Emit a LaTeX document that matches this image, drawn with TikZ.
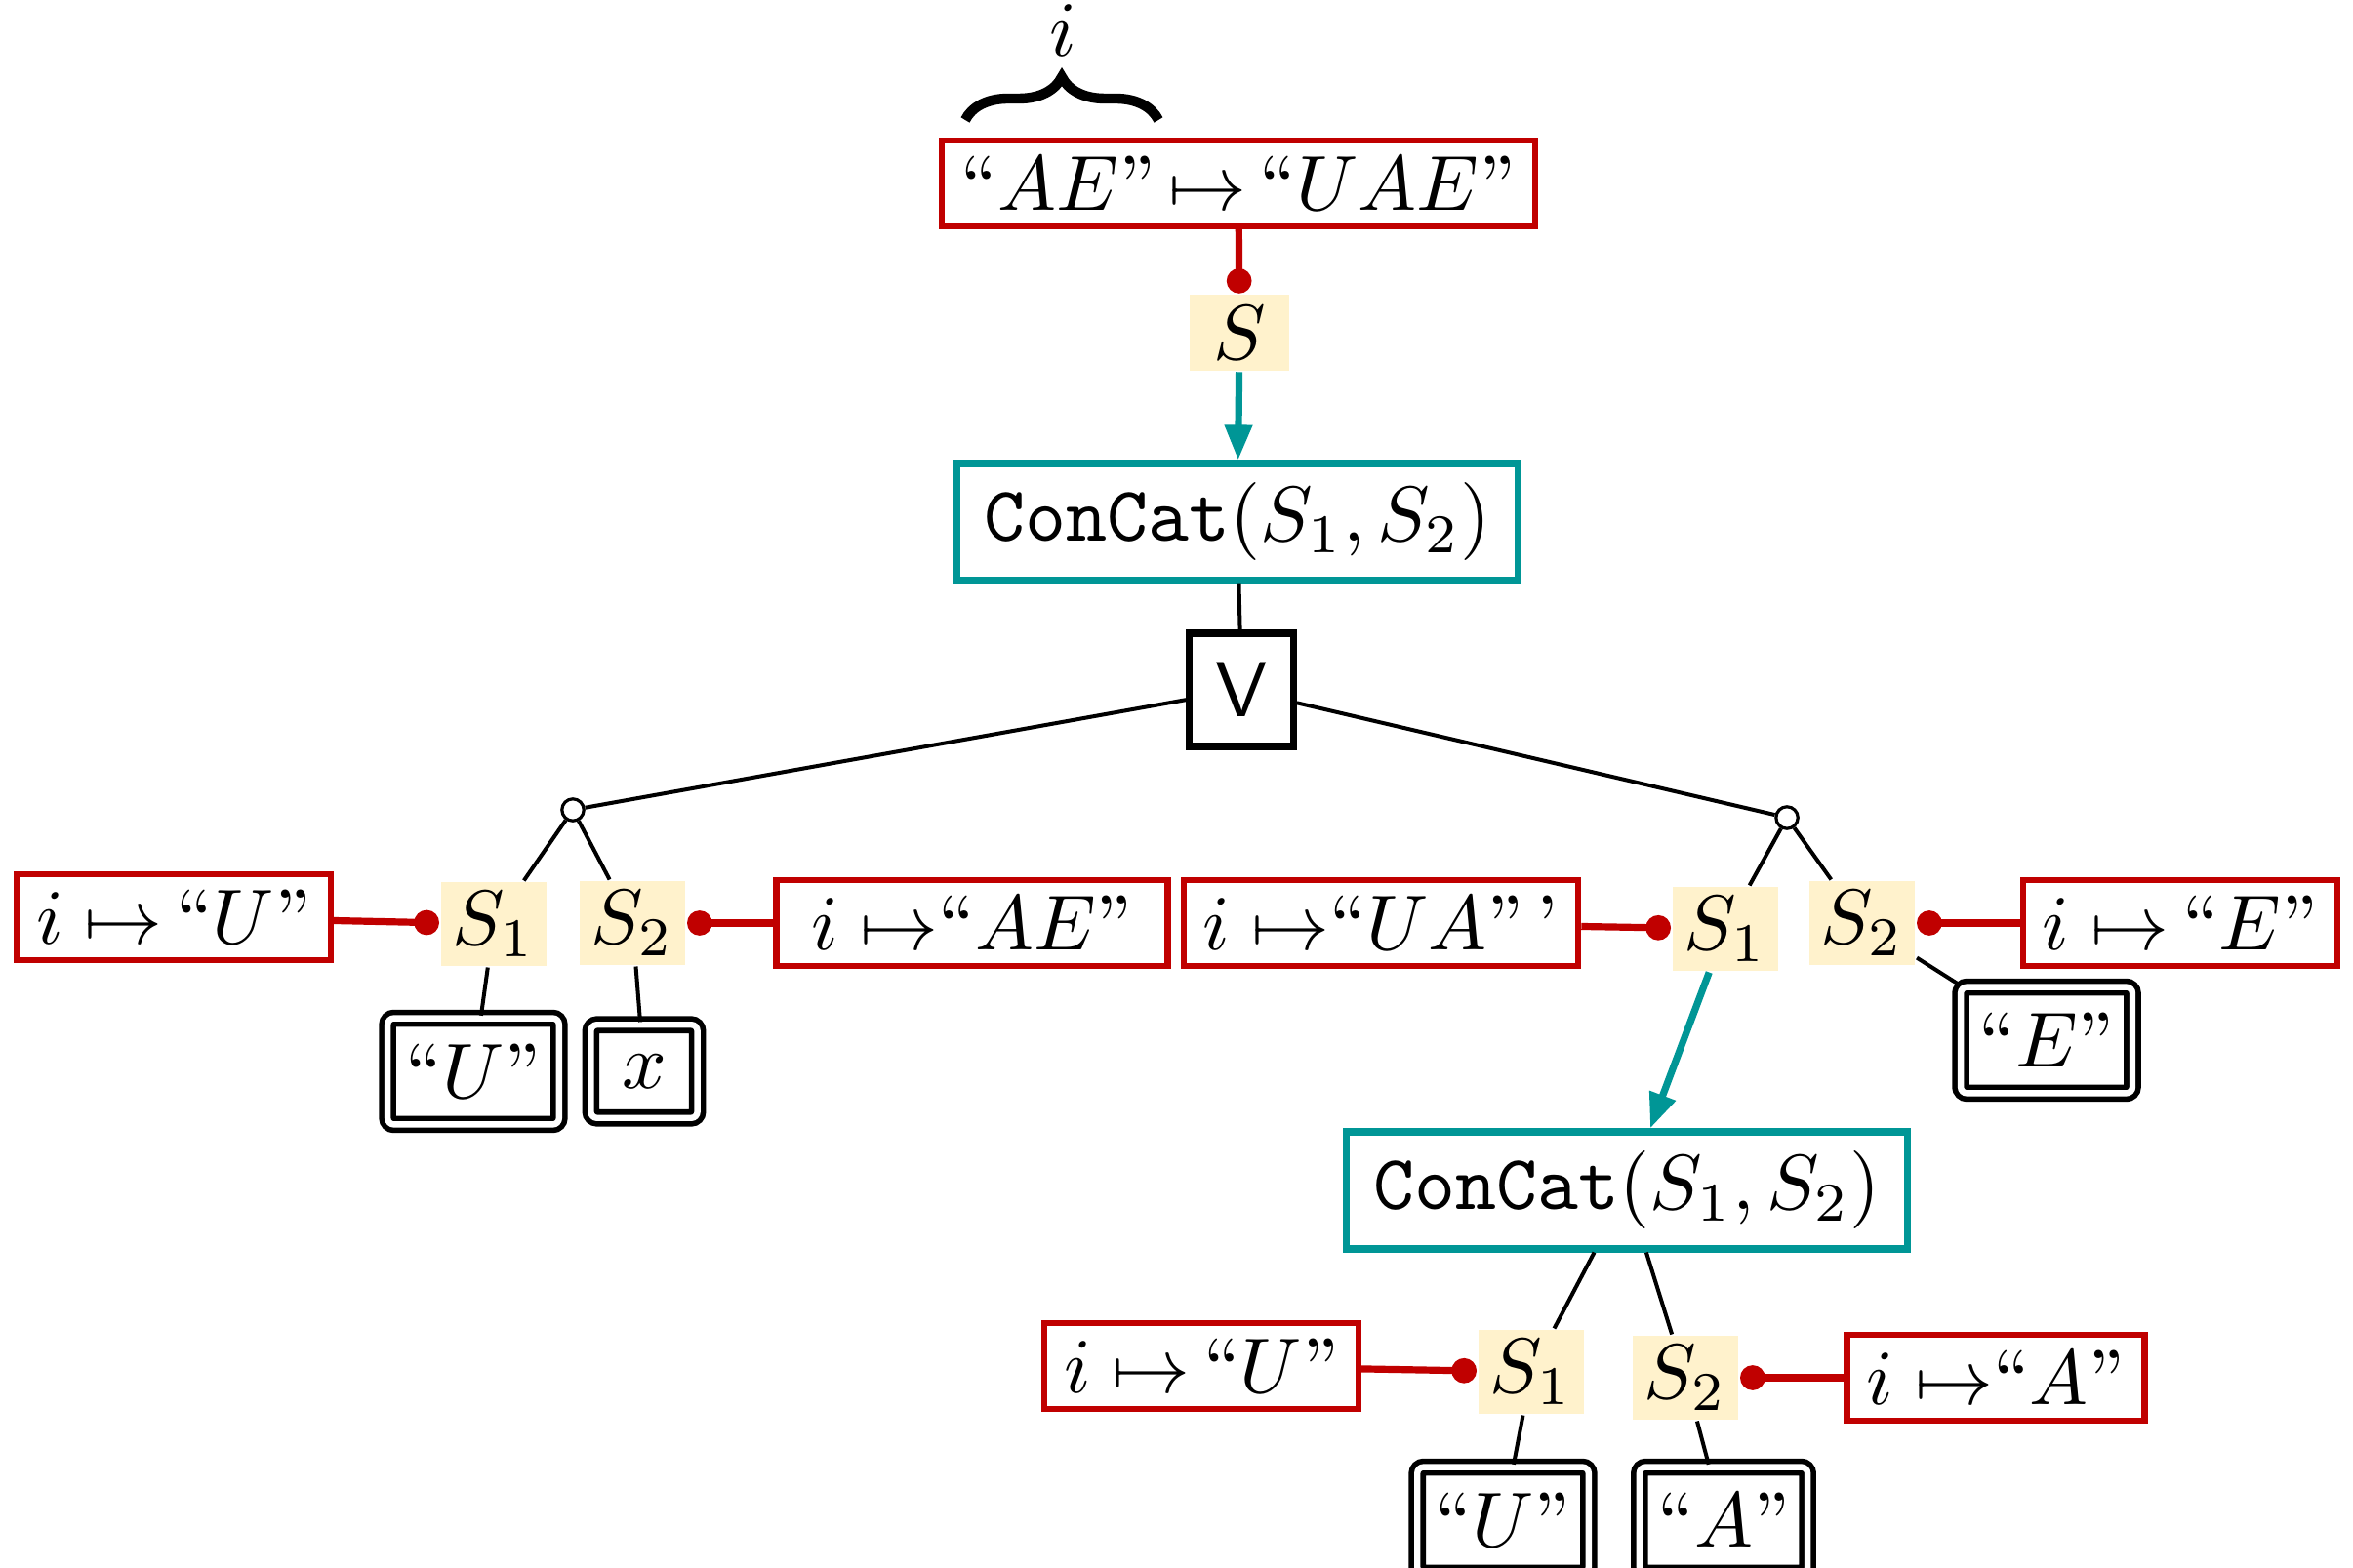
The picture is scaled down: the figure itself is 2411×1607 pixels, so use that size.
\documentclass[tikz,border=0pt]{standalone}
\usepackage{amsmath, amssymb}
\usepackage{tikz}
\usetikzlibrary{arrows.meta, decorations.pathreplacing}
\definecolor{specred}{RGB}{192,0,0}
\definecolor{opteal}{RGB}{0,150,150}
\definecolor{varyellow}{RGB}{255,242,204}

\begin{document}
\begin{tikzpicture}[x=0.0044cm, y=-0.0044cm,
		spec/.style={draw=specred, line width=0.8pt, inner xsep=2.5pt, inner ysep=2pt},
		var/.style={fill=varyellow, inner xsep=1.5pt, inner ysep=1.2pt, minimum width=0.45cm, minimum height=0.34cm},
		op/.style={draw=opteal, line width=0.9pt, inner xsep=3.5pt, inner ysep=2.5pt},
		orbox/.style={draw, line width=0.9pt, minimum width=0.42cm, minimum height=0.51cm},
		leaf/.style={draw, line width=0.7pt, double, double distance=0.8pt, rounded corners=0.8pt, inner xsep=2.3pt, minimum width=0.48cm, minimum height=0.42cm},
		orpt/.style={circle, draw, fill=white, inner sep=0pt, minimum size=2.8pt},
		tree/.style={line width=0.5pt},
		bind/.style={specred, line width=0.9pt, -{Circle[length=3.2pt]}},
		flow/.style={opteal, line width=0.9pt, -{Triangle[length=4.5pt, width=3.4pt]}}]
			\useasboundingbox (0,0) rectangle (2411,1607);

			% 顶部规格与花括号
			\node[spec] (spec) at (1269,188) {``$AE$''\,$\mapsto$\,``$UAE$''};
			\coordinate (bl) at (989,123);
			\coordinate (br) at (1187,123);
			\draw[line width=1.3pt, decorate, decoration={brace, amplitude=5.5pt}] (bl) -- (br);
			\node (ilab) at (1089,31) {$i$};

			\node[var] (s) at (1270,341) {$S$};
			\node[op] (cc) at (1268,535) {\texttt{ConCat}$(S_1, S_2)$};
			\node[orbox] (vee) at (1272,707) {\textsf{V}};
			\node[orpt] (lor) at (587,830) {};
			\node[orpt] (ror) at (1831,838) {};

			\draw[bind] (spec) -- (s);
			\draw[flow] (s) -- (cc);
			\draw[tree] (cc) -- (vee);
			\draw[tree] (vee) -- (lor);
			\draw[tree] (vee) -- (ror);

			% 左分支
			\node[spec] (lsp1) at (178,940) {$i \mapsto$\,``$U$''};
			\node[var] (ls1) at (506,947) {$S_1$};
			\node[var] (ls2) at (648,946) {$S_2$};
			\node[spec, inner xsep=4.5pt] (lsp2) at (996,946) {$i \mapsto$``$AE$''};
			\node[leaf] (lc1) at (485,1098) {``$U$''};
			\node[leaf] (lc2) at (660,1098) {$x$};

			\draw[tree] (lor) -- (ls1);
			\draw[tree] (lor) -- (ls2);
			\draw[tree] (ls1) -- (lc1);
			\draw[tree] (ls2) -- (lc2);
			\draw[bind] (lsp1) -- (ls1);
			\draw[bind] (lsp2) -- (ls2);

			% 右分支
			\node[spec] (rsp1) at (1415,946) {$i \mapsto$``$UA$''\,'};
			\node[var] (rs1) at (1768,952) {$S_1$};
			\node[var] (rs2) at (1908,946) {$S_2$};
			\node[spec] (rsp2) at (2234,946) {$i \mapsto$\,``$E$''};
			\node[leaf] (rc2) at (2097,1066) {``$E$''};

			\draw[tree] (ror) -- (rs1);
			\draw[tree] (ror) -- (rs2);
			\draw[tree] (rs2) -- (rc2);
			\draw[bind] (rsp1) -- (rs1);
			\draw[bind] (rsp2) -- (rs2);

			% 第二个 ConCat
			\node[op] (cc2) at (1667,1220) {\texttt{ConCat}$(S_1, S_2)$};
			\node[spec] (bsp1) at (1231,1400) {$i \mapsto$\,``$U$''};
			\node[var] (bs1) at (1569,1406) {$S_1$};
			\node[var] (bs2) at (1727,1412) {$S_2$};
			\node[spec] (bsp2) at (2045,1412) {$i \mapsto$``$A$''};
			\node[leaf] (bc1) at (1540,1558) {``$U$''};
			\node[leaf] (bc2) at (1766,1558) {``$A$''};

			\draw[flow] (rs1) -- (cc2);
			\draw[tree] (cc2) -- (bs1);
			\draw[tree] (cc2) -- (bs2);
			\draw[tree] (bs1) -- (bc1);
			\draw[tree] (bs2) -- (bc2);
			\draw[bind] (bsp1) -- (bs1);
			\draw[bind] (bsp2) -- (bs2);
		\end{tikzpicture}
\end{document}
